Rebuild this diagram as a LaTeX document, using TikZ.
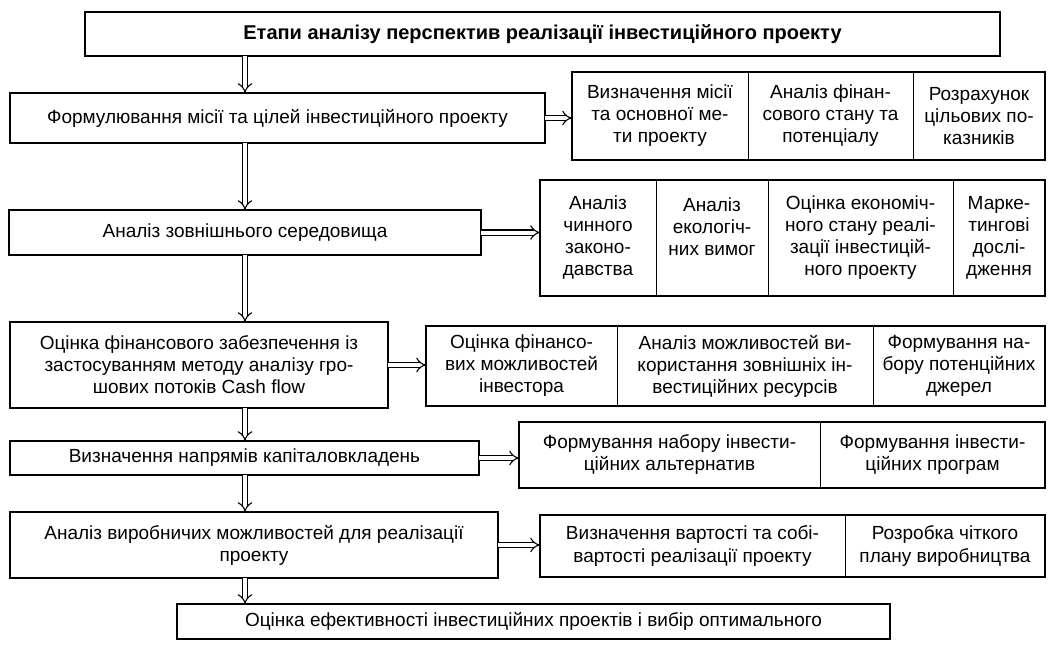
\documentclass[tikz,border=0pt]{standalone}
\usepackage{fontspec}
\setmainfont{Liberation Sans}
\usetikzlibrary{arrows.meta}

\begin{document}
\begin{tikzpicture}[x=1pt,y=-1pt,
  box/.style={draw, line width=1.6pt, align=center, anchor=north west, inner sep=1pt, outer sep=0pt, font=\fontsize{19}{22}\selectfont},
  cell/.style={draw, line width=0.9pt, align=center, anchor=north west, inner sep=1pt, outer sep=0pt, font=\fontsize{19}{22}\selectfont},
  frame/.style={line width=1.8pt},
  flow/.style={double, double distance=4pt, line width=1.1pt, -{Implies}}]

\useasboundingbox (0,0) rectangle (1049,647);

\node[box, minimum width=915, minimum height=44, font=\fontsize{20}{22}\selectfont\bfseries] (title) at (85,12) {Етапи аналізу перспектив реалізації інвестиційного проекту};
\node[box, minimum width=535, minimum height=50] (form) at (10,93) {Формулювання місії та цілей інвестиційного проекту};
\node[box, minimum width=472, minimum height=45] (env) at (9,210) {Аналіз зовнішнього середовища};
\node[box, minimum width=378, minimum height=86] (fin) at (10,322) {Оцінка фінансового забезпечення із\\застосуванням методу аналізу гро-\\шових потоків Cash flow};
\node[box, minimum width=469, minimum height=34] (dir) at (10,441) {Визначення напрямів капіталовкладень};
\node[box, minimum width=488, minimum height=66] (prod) at (10,512) {Аналіз виробничих можливостей для реалізації\\проекту};
\node[box, minimum width=713, minimum height=35] (eff) at (177,604) {Оцінка ефективності інвестиційних проектів і вибір оптимального};

\node[cell, minimum width=176, minimum height=88] (s1a) at (572,72) {Визначення місії\\та основної ме-\\ти проекту};
\node[cell, minimum width=165, minimum height=88] (s1b) at (748,72) {Аналіз фінан-\\сового стану та\\потенціалу};
\node[cell, minimum width=132, minimum height=88] (s1c) at (913,72) {Розрахунок\\цільових по-\\казників};
\draw[frame] (s1a.north west) rectangle (s1c.south east);

\node[cell, minimum width=116, minimum height=116] (s2a) at (540,180) {Аналіз\\чинного\\законо-\\давства};
\node[cell, minimum width=112, minimum height=116] (s2b) at (656,180) {Аналіз\\екологіч-\\них вимог\\\mbox{}};
\node[cell, minimum width=185, minimum height=116] (s2c) at (768,180) {Оцінка економіч-\\ного стану реалі-\\зації інвестицій-\\ного проекту};
\node[cell, minimum width=92, minimum height=116] (s2d) at (953,180) {Марке-\\тингові\\дослі-\\дження};
\draw[frame] (s2a.north west) rectangle (s2d.south east);

\node[cell, minimum width=191, minimum height=80] (s3a) at (426,326) {Оцінка фінансо-\\вих можливостей\\інвестора};
\node[cell, minimum width=256, minimum height=80] (s3b) at (617,326) {Аналіз можливостей ви-\\користання зовнішніх ін-\\вестиційних ресурсів};
\node[cell, minimum width=172, minimum height=80] (s3c) at (873,326) {Формування на-\\бору потенційних\\джерел};
\draw[frame] (s3a.north west) rectangle (s3c.south east);

\node[cell, minimum width=301, minimum height=66] (s4a) at (519,422) {Формування набору інвести-\\ційних альтернатив};
\node[cell, minimum width=225, minimum height=66] (s4b) at (820,422) {Формування інвести-\\ційних програм};
\draw[frame] (s4a.north west) rectangle (s4b.south east);

\node[cell, minimum width=305, minimum height=62] (s5a) at (540,515) {Визначення вартості та собі-\\вартості реалізації проекту};
\node[cell, minimum width=200, minimum height=62] (s5b) at (845,515) {Розробка чіткого\\плану виробництва};
\draw[frame] (s5a.north west) rectangle (s5b.south east);

\draw[flow] (title.south -| env) -- (form.north -| env);
\draw[flow] (form.south -| env) -- (env.north);
\draw[flow] (env.south) -- (fin.north -| env);
\draw[flow] (fin.south -| env) -- (dir.north -| env);
\draw[flow] (dir.south -| env) -- (prod.north -| env);
\draw[flow] (prod.south -| env) -- (eff.north -| env);

\draw[flow] (form.east) -- (form.east -| s1a.west);
\draw[flow] (env.east) -- (env.east -| s2a.west);
\draw[flow] (fin.east) -- (fin.east -| s3a.west);
\draw[flow] (dir.east) -- (dir.east -| s4a.west);
\draw[flow] (prod.east) -- (prod.east -| s5a.west);
\end{tikzpicture}
\end{document}
